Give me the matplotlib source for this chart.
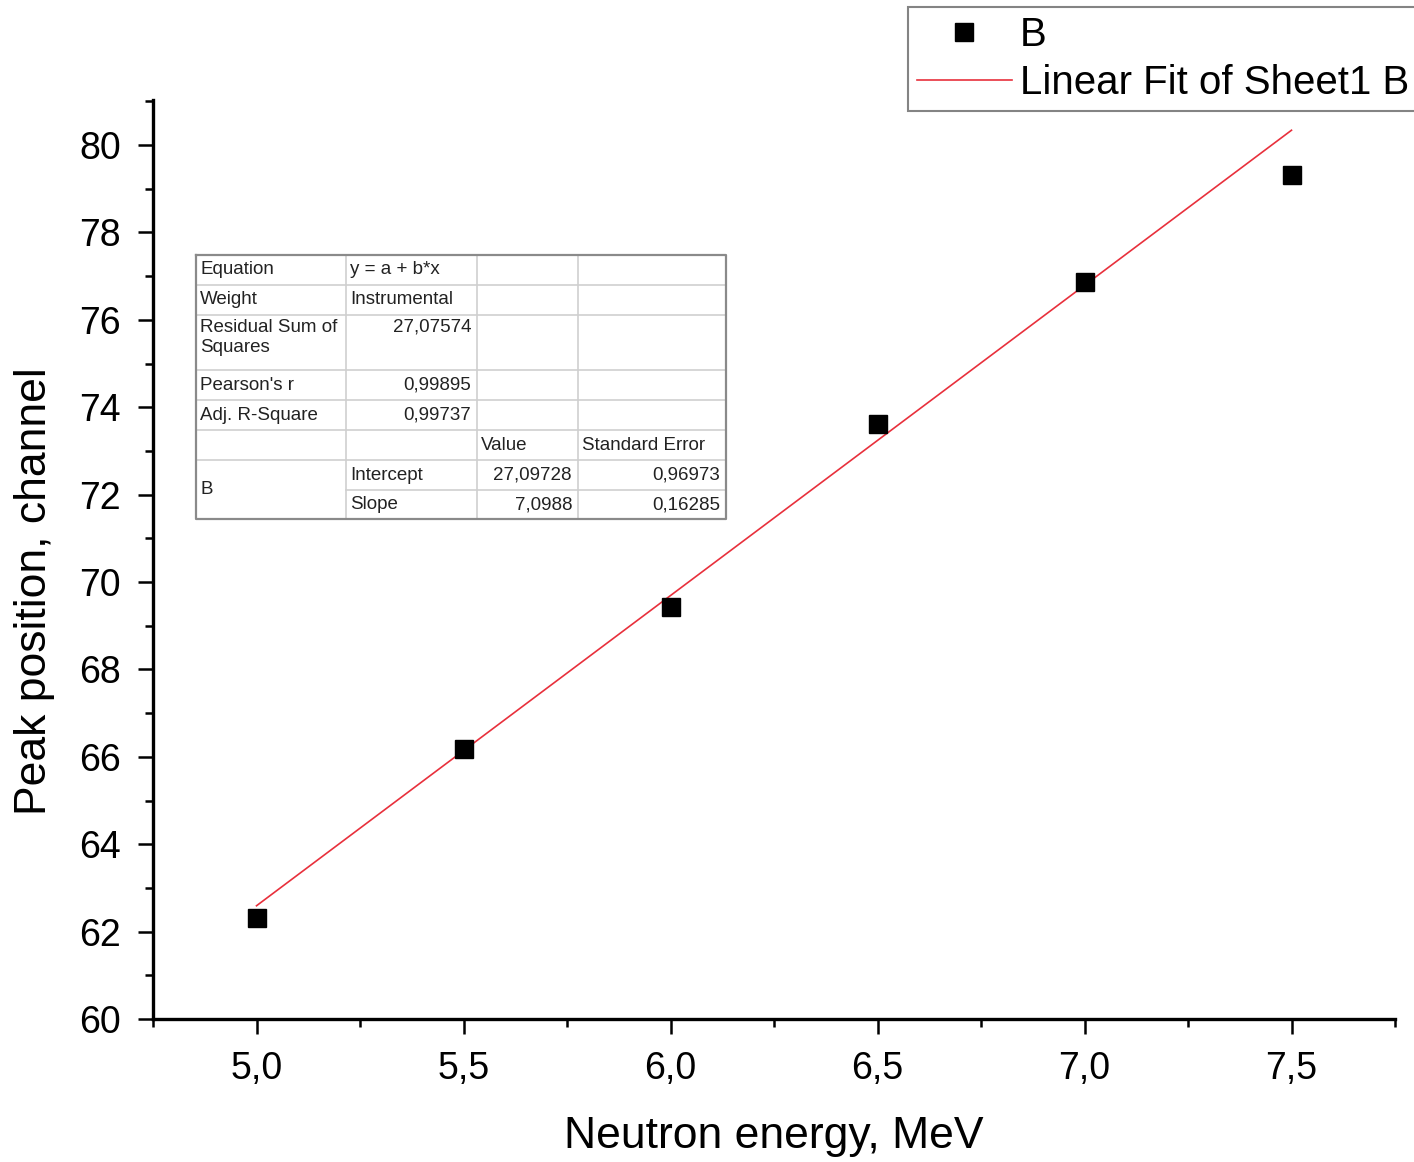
import matplotlib
matplotlib.use("Agg")
import matplotlib.pyplot as plt
from matplotlib.ticker import MultipleLocator, FixedLocator, FixedFormatter
from matplotlib.lines import Line2D

plt.rcParams['font.family'] = ['Liberation Sans', 'DejaVu Sans']

# ---- data ----
energy = [5.0, 5.5, 6.0, 6.5, 7.0, 7.5]
peak = [62.31, 66.18, 69.43, 73.62, 76.86, 79.31]
fit_intercept = 27.09728
fit_slope = 7.0988
x_ticks = [5.0, 5.5, 6.0, 6.5, 7.0, 7.5]
x_ticklabels = ["5,0", "5,5", "6,0", "6,5", "7,0", "7,5"]
y_ticks = [60, 62, 64, 66, 68, 70, 72, 74, 76, 78, 80]
y_ticklabels = [str(v) for v in y_ticks]

table_rows = [
    ["Equation", "y = a + b*x", "", ""],
    ["Weight", "Instrumental", "", ""],
    ["Residual Sum of\nSquares", "27,07574", "", ""],
    ["Pearson's r", "0,99895", "", ""],
    ["Adj. R-Square", "0,99737", "", ""],
    ["", "", "Value", "Standard Error"],
    ["B", "Intercept", "27,09728", "0,96973"],
    ["", "Slope", "7,0988", "0,16285"],
]

W, H = 1414, 1162
fig = plt.figure(figsize=(W / 100, H / 100), dpi=100)
ax = fig.add_axes([153 / W, 1 - 1019 / H, (1395 - 153) / W, (1019 - 100) / H])

ax.plot(energy, peak, 's', color='black', markersize=13, label='B', zorder=3)
fx = [energy[0], energy[-1]]
fy = [fit_intercept + fit_slope * v for v in fx]
ax.plot(fx, fy, '-', color='#e8303c', linewidth=1.2, label='Linear Fit of Sheet1 B', zorder=2)

ax.set_xlim(4.75, 7.75)
ax.set_ylim(60, 81.03)
ax.xaxis.set_major_locator(FixedLocator(x_ticks))
ax.xaxis.set_major_formatter(FixedFormatter(x_ticklabels))
ax.xaxis.set_minor_locator(MultipleLocator(0.25))
ax.yaxis.set_major_locator(FixedLocator(y_ticks))
ax.yaxis.set_major_formatter(FixedFormatter(y_ticklabels))
ax.yaxis.set_minor_locator(MultipleLocator(1))

for s in ['top', 'right']:
    ax.spines[s].set_visible(False)
for s in ['left', 'bottom']:
    ax.spines[s].set_linewidth(2.4)
ax.tick_params(which='major', direction='out', length=11, width=1.8, labelsize=27)
ax.tick_params(which='minor', direction='out', length=6, width=1.8)
ax.tick_params(axis='y', which='major', pad=12)
ax.tick_params(axis='x', which='major', pad=12)

ax.set_xlabel("Neutron energy, MeV", fontsize=32)
ax.set_ylabel("Peak position, channel", fontsize=32)
ax.xaxis.set_label_coords(0.5, -0.106)
ax.yaxis.set_label_coords(-0.079, 0.466)

# legend
handles = [Line2D([], [], marker='s', ls='none', color='black', markersize=13),
           Line2D([], [], color='#e8303c', linewidth=1.2)]
leg = fig.legend(handles, ['B', 'Linear Fit of Sheet1 B'], loc='upper left',
                 bbox_to_anchor=(908 / W, 1 - 7 / H), fontsize=29, frameon=True,
                 fancybox=False, edgecolor='#666666', borderpad=0.22,
                 labelspacing=0.25, handlelength=2.35, handletextpad=0.2,
                 borderaxespad=0)
leg.get_frame().set_linewidth(1.5)

# fit table overlay
ov = fig.add_axes([0, 0, 1, 1], zorder=5)
ov.set_xlim(0, W)
ov.set_ylim(H, 0)
ov.axis('off')
cols = [196, 346, 477, 578, 726]
rows = [255, 285, 315, 370, 400, 430, 460, 490, 519]
grid = '#cfcfcf'
ov.fill_between([cols[0], cols[-1]], rows[0], rows[-1], color='white', zorder=1)
for r in rows[1:-1]:
    x0 = cols[1] if r == 490 else cols[0]
    ov.plot([x0, cols[-1]], [r, r], color=grid, lw=1.2, zorder=2)
for c in cols[1:-1]:
    ov.plot([c, c], [rows[0], rows[-1]], color=grid, lw=1.2, zorder=2)
ov.plot([cols[0], cols[-1], cols[-1], cols[0], cols[0]],
        [rows[0], rows[0], rows[-1], rows[-1], rows[0]], color='#8a8a8a', lw=1.6, zorder=3)

fs = 13.5
tc = '#222222'
right_cols = {(2, 1), (3, 1), (4, 1), (6, 2), (7, 2), (6, 3), (7, 3)}
for i, row in enumerate(table_rows):
    top, bot = rows[i], rows[i + 1]
    for j, txt in enumerate(row):
        if not txt:
            continue
        if i == 6 and j == 0:
            yy = (rows[6] + rows[8]) / 2
            va = 'center'
        elif i == 2:
            yy = top + 4
            va = 'top'
        else:
            yy = (top + bot) / 2
            va = 'center'
        if (i, j) in right_cols:
            ov.text(cols[j + 1] - 6, yy, txt, ha='right', va=va, fontsize=fs, color=tc,
                    linespacing=1.25, zorder=4)
        else:
            ov.text(cols[j] + 4, yy, txt, ha='left', va=va, fontsize=fs, color=tc,
                    linespacing=1.25, zorder=4)

fig.savefig("out.png", dpi=100)
